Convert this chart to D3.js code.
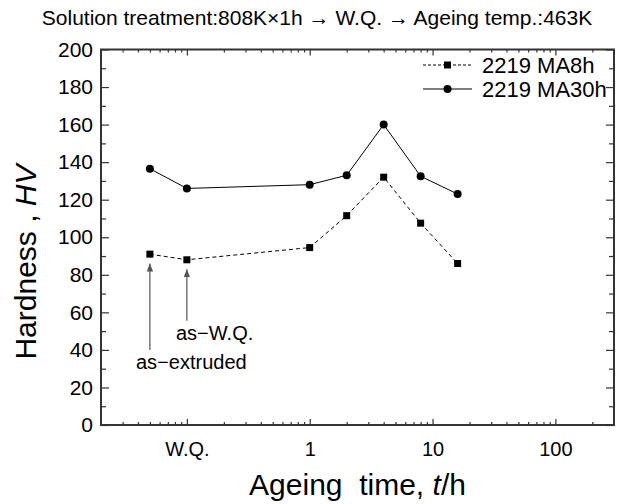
<!DOCTYPE html>
<html lang="en">
<head>
	<meta charset="UTF-8">
	<title>Hardness vs ageing time</title>
	<script src="https://cdn.jsdelivr.net/npm/d3@7"></script>
	<style>
		body { margin: 0; background: #fff; }
		text { font-family: "Liberation Sans", Arial, sans-serif; fill: #000; }
	</style>
</head>
<body>
	<div id="container"></div>
	<script>
		var width = 624;
		var height = 504;

		// ageing time in hours (0.05 = as-extruded, 0.1 = W.Q.)
		var times = [0.05, 0.1, 1, 2, 4, 8, 16];
		var ma8h = [91, 88, 94.5, 111.5, 132, 107.5, 86];
		var ma30h = [136.5, 126, 128, 133, 160, 132.5, 123];

		var xMajor = [0.1, 1, 10, 100];
		var xMajorLabels = ["W.Q.", "1", "10", "100"];
		var yMajor = [0, 20, 40, 60, 80, 100, 120, 140, 160, 180, 200];
		var yMinor = [10, 30, 50, 70, 90, 110, 130, 150, 170, 190];

		var svg = d3.select("#container").append("svg")
				.attr("width", width)
				.attr("height", height);

		var x = d3.scaleLog().domain([0.02, 300]).range([101, 614]);
		var y = d3.scaleLinear().domain([0, 200]).range([425, 49.5]);

		// minor ticks of the log axis: 2..9 of each decade
		var xMinor = [];
		[0.01, 0.1, 1, 10, 100].forEach(function(d) {
			for (var k = 2; k <= 9; k++) {
				var v = d * k;
				if (v > 0.02 && v < 300) xMinor.push(v);
			}
		});

		function clean(g) {
			g.select(".domain").remove();
			g.selectAll("line").attr("stroke", "#333").attr("stroke-width", 1.2);
		}

		// bottom axis
		svg.append("g").attr("transform", "translate(0,425)")
			.call(d3.axisBottom(x).tickValues(xMinor).tickSize(-3).tickFormat(""))
			.call(clean);
		svg.append("g").attr("transform", "translate(0,425)")
			.call(d3.axisBottom(x).tickValues(xMajor).tickSize(-6).tickPadding(17)
				.tickFormat(function(d, i) { return xMajorLabels[i]; }))
			.call(clean)
			.selectAll("text").style("font-size", "20px").attr("fill", "#000");
		// top axis
		svg.append("g").attr("transform", "translate(0,49.5)")
			.call(d3.axisTop(x).tickValues(xMinor).tickSize(-3).tickFormat(""))
			.call(clean);
		svg.append("g").attr("transform", "translate(0,49.5)")
			.call(d3.axisTop(x).tickValues(xMajor).tickSize(-6).tickFormat(""))
			.call(clean);

		// left axis
		svg.append("g").attr("transform", "translate(101,0)")
			.call(d3.axisLeft(y).tickValues(yMinor).tickSize(-5).tickFormat(""))
			.call(clean);
		svg.append("g").attr("transform", "translate(101,0)")
			.call(d3.axisLeft(y).tickValues(yMajor).tickSize(-8).tickPadding(8))
			.call(clean)
			.selectAll("text").style("font-size", "21px").attr("fill", "#000");
		// right axis
		svg.append("g").attr("transform", "translate(614,0)")
			.call(d3.axisRight(y).tickValues(yMinor).tickSize(-5).tickFormat(""))
			.call(clean);
		svg.append("g").attr("transform", "translate(614,0)")
			.call(d3.axisRight(y).tickValues(yMajor).tickSize(-8).tickFormat(""))
			.call(clean);

		// frame
		svg.append("rect")
				.attr("x", x(0.02)).attr("y", y(200))
				.attr("width", x(300) - x(0.02))
				.attr("height", y(0) - y(200))
				.attr("fill", "none")
				.attr("stroke", "#333")
				.attr("stroke-width", 2);

		// series lines
		var line = d3.line()
				.x(function(d) { return x(d[0]); })
				.y(function(d) { return y(d[1]); });

		var pts8 = times.map(function(t, i) { return [t, ma8h[i]]; });
		var pts30 = times.map(function(t, i) { return [t, ma30h[i]]; });

		svg.append("path").datum(pts8)
				.attr("d", line)
				.attr("fill", "none")
				.attr("stroke", "#000")
				.attr("stroke-width", 1)
				.attr("stroke-dasharray", "4,3");
		svg.append("path").datum(pts30)
				.attr("d", line)
				.attr("fill", "none")
				.attr("stroke", "#000")
				.attr("stroke-width", 1);

		svg.selectAll(".sq").data(pts8)
			.enter().append("rect")
				.attr("x", function(d) { return x(d[0]) - 3.5; })
				.attr("y", function(d) { return y(d[1]) - 3.5; })
				.attr("width", 7)
				.attr("height", 7)
				.attr("fill", "#000");
		svg.selectAll(".ci").data(pts30)
			.enter().append("circle")
				.attr("cx", function(d) { return x(d[0]); })
				.attr("cy", function(d) { return y(d[1]); })
				.attr("r", 4)
				.attr("fill", "#000");

		// legend
		var legend = svg.append("g");
		legend.append("line").attr("x1", 423).attr("x2", 472).attr("y1", 65).attr("y2", 65)
				.attr("stroke", "#000").attr("stroke-dasharray", "3,2");
		legend.append("rect").attr("x", 444).attr("y", 61.5).attr("width", 7).attr("height", 7)
				.attr("fill", "#000");
		legend.append("text").attr("x", 482).attr("y", 65).attr("dy", "0.36em")
				.style("font-size", "22px").text("2219 MA8h");
		legend.append("line").attr("x1", 423).attr("x2", 472).attr("y1", 89).attr("y2", 89)
				.attr("stroke", "#000");
		legend.append("circle").attr("cx", 447.5).attr("cy", 89).attr("r", 4).attr("fill", "#000");
		legend.append("text").attr("x", 482).attr("y", 89).attr("dy", "0.36em")
				.style("font-size", "22px").text("2219 MA30h");

		// arrows
		svg.append("defs").append("marker")
				.attr("id", "head")
				.attr("viewBox", "0 0 10 10")
				.attr("refX", 10).attr("refY", 5)
				.attr("markerWidth", 8).attr("markerHeight", 8)
				.attr("markerUnits", "userSpaceOnUse")
				.attr("orient", "auto")
			.append("path").attr("d", "M0,1 L10,5 L0,9 Z").attr("fill", "#555");

		var arrows = [
			{t: 0.05, from: 40, to: 86},
			{t: 0.1, from: 55.5, to: 83}
		];
		svg.selectAll(".arrow").data(arrows)
			.enter().append("line")
				.attr("x1", function(d) { return x(d.t); })
				.attr("x2", function(d) { return x(d.t); })
				.attr("y1", function(d) { return y(d.from); })
				.attr("y2", function(d) { return y(d.to); })
				.attr("stroke", "#555")
				.attr("stroke-width", 1.2)
				.attr("marker-end", "url(#head)");

		svg.append("text").attr("x", 176).attr("y", 340)
				.style("font-size", "20px").text("as\u2212W.Q.");
		svg.append("text").attr("x", 136).attr("y", 369)
				.style("font-size", "20px").text("as\u2212extruded");

		// titles
		svg.append("text").attr("x", 317).attr("y", 25)
				.attr("text-anchor", "middle")
				.style("font-size", "21px")
				.text("Solution treatment:808K\u00d71h \u2192 W.Q. \u2192 Ageing temp.:463K");

		var xt = svg.append("text").attr("x", 357.5).attr("y", 495)
				.attr("text-anchor", "middle")
				.style("font-size", "30px");
		xt.append("tspan").text("Ageing\u00a0\u00a0time, ");
		xt.append("tspan").style("font-style", "italic").text("t");
		xt.append("tspan").text("/h");

		var yt = svg.append("text")
				.attr("transform", "translate(36,262) rotate(-90)")
				.attr("text-anchor", "middle")
				.style("font-size", "30px");
		yt.append("tspan").text("Hardness , ");
		yt.append("tspan").style("font-style", "italic").text("HV");
	</script>
</body>
</html>
